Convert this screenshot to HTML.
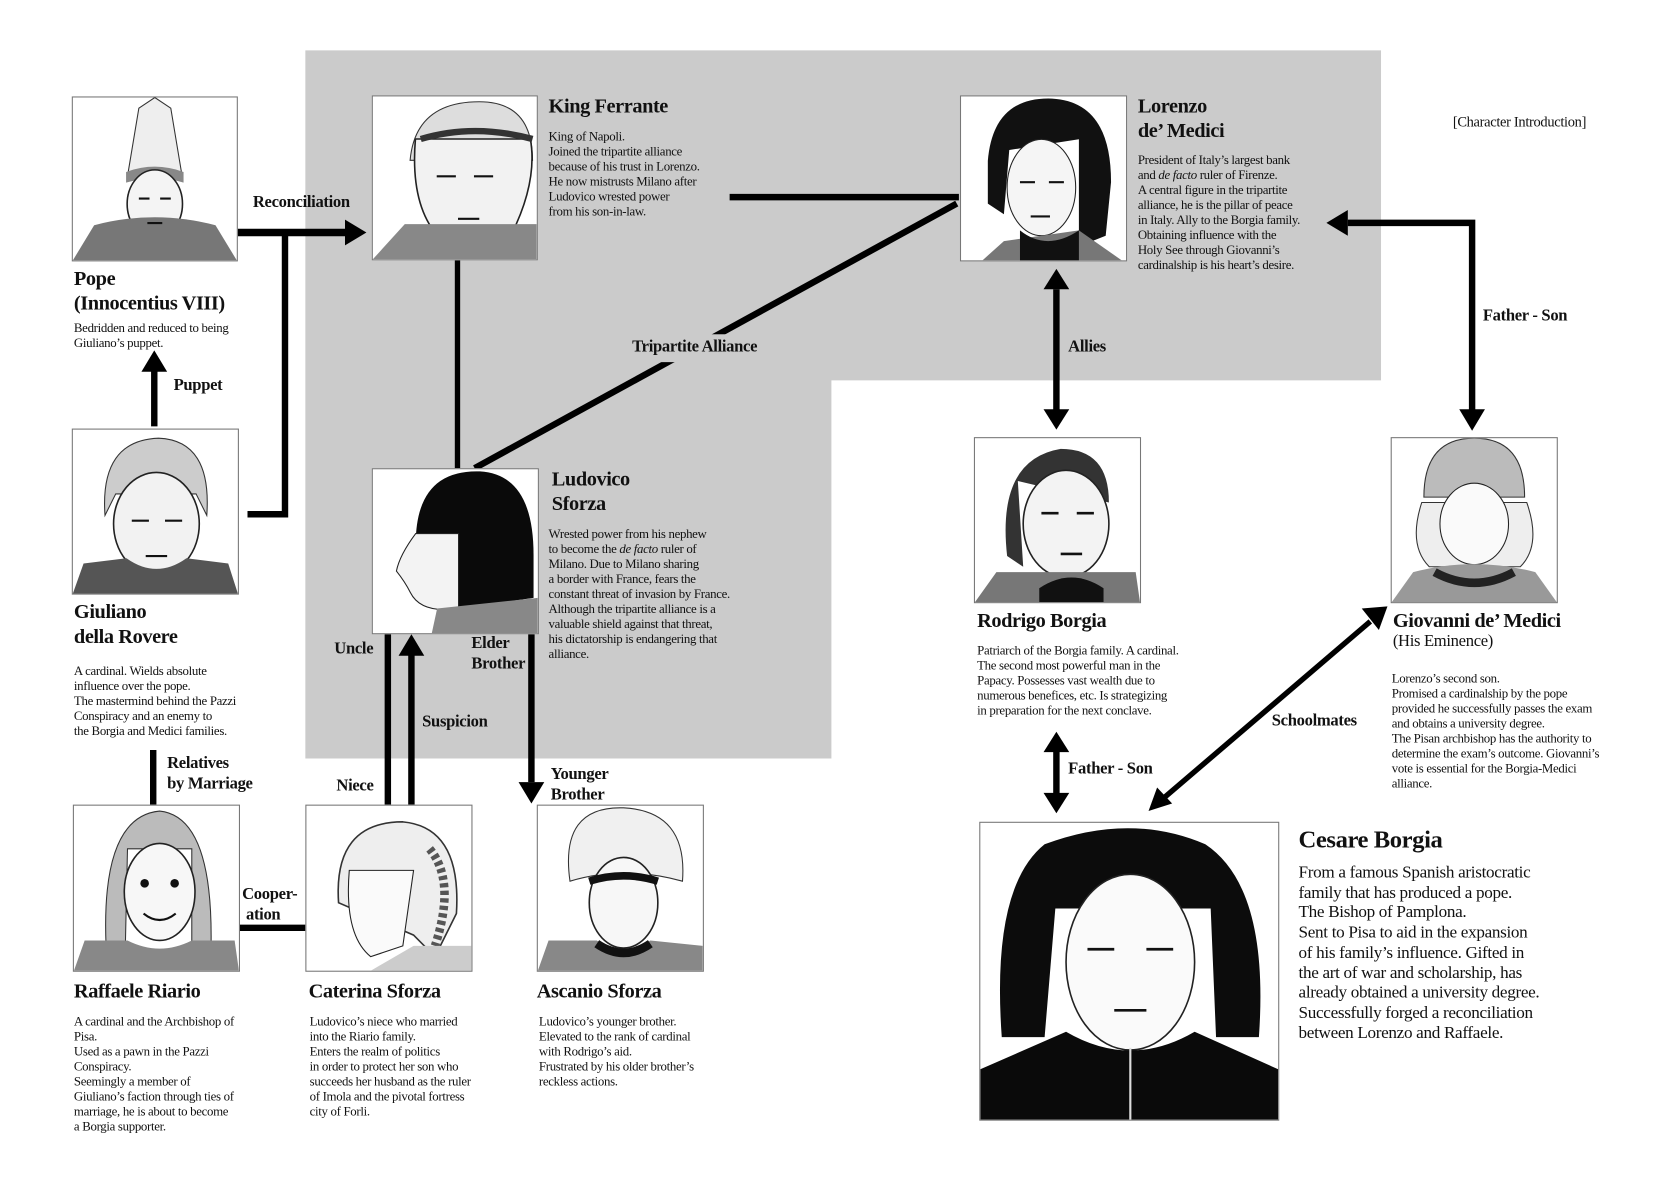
<!DOCTYPE html>
<html><head><meta charset="utf-8">
<style>
html,body{margin:0;padding:0;background:#fff;}
body{width:1680px;height:1200px;overflow:hidden;position:relative;}
#w{position:absolute;left:0;top:0;width:1568px;height:1120px;transform:scale(1.0714,1.0714);transform-origin:0 0;font-family:"Liberation Serif",serif;color:#111;}
.a{position:absolute;}
.box{position:absolute;border:1px solid #777;background:#fff;overflow:hidden;}
.box svg{width:100%;height:100%;display:block;}
.n{position:absolute;font-weight:bold;font-size:19px;line-height:23px;white-space:nowrap;letter-spacing:-0.4px;}
.d{position:absolute;font-size:12px;line-height:14px;white-space:nowrap;letter-spacing:-0.3px;}
.l{position:absolute;font-weight:bold;font-size:15.5px;line-height:18.5px;white-space:nowrap;letter-spacing:-0.3px;}
</style></head><body><div id="w">

<svg class="a" style="left:0;top:0" width="1568" height="1120" viewBox="0 0 1568 1120">
<polygon points="285,47 1289,47 1289,355 776,355 776,708 285,708" fill="#cbcbcb"/>
<g stroke="#000" fill="none">
<path d="M221 217 H324" stroke-width="7"/>
<path d="M266 217 V480 H231" stroke-width="6"/>
<path d="M144 398 V345" stroke-width="6"/>
<path d="M427 242 V437" stroke-width="5"/>
<path d="M681 184 H895" stroke-width="6"/>
<path d="M986 270 V385" stroke-width="6"/>
<path d="M1258 208 H1374 V385" stroke-width="6"/>
<path d="M986 700 V742" stroke-width="6"/>
<path d="M1279 580 L1086 745" stroke-width="5"/>
<path d="M362 590 V751" stroke-width="6"/>
<path d="M384 751 V610" stroke-width="6"/>
<path d="M496 590 V730" stroke-width="6"/>
<path d="M143 700 V751" stroke-width="6"/>
<path d="M222 866 H285" stroke-width="6"/>
</g>
<line x1="893" y1="190" x2="443" y2="437" stroke="#000" stroke-width="6"/>
<rect x="585" y="312" width="135" height="26" fill="#cbcbcb"/>
<g fill="#000">
<polygon points="322,205 342,217 322,229"/>
<polygon points="132,347 144,327 156,347"/>
<polygon points="974,270 986,251 998,270"/>
<polygon points="974,382 986,401 998,382"/>
<polygon points="1258,196 1238,208 1258,220"/>
<polygon points="1362,382 1374,402 1386,382"/>
<polygon points="974,702 986,683 998,702"/>
<polygon points="974,740 986,759 998,740"/>
<polygon points="1271,568 1295,566 1287,588"/>
<polygon points="1072,757 1080,735 1094,750"/>
<polygon points="372,612 384,592 396,612"/>
<polygon points="484,730 496,750 508,730"/>
</g>
</svg>

<div class="box" style="left:67px;top:90px;width:153px;height:152px"><svg viewBox="0 0 154 153" preserveAspectRatio="none"><path d="M52 70 L62 10 L77 0 L92 10 L102 70Z" fill="#eee" stroke="#333"/><path d="M50 70 Q77 60 104 70 L104 80 Q77 72 50 80Z" fill="#888"/><ellipse cx="77" cy="100" rx="26" ry="32" fill="#f4f4f4" stroke="#222" stroke-width="1.5"/><path d="M0 153 L20 120 Q77 105 134 120 L154 153Z" fill="#777"/><path d="M62 95h10M82 95h10M70 118h14" stroke="#111" stroke-width="2"/></svg></div>
<div class="box" style="left:347px;top:89px;width:153px;height:152px"><svg viewBox="0 0 154 153" preserveAspectRatio="none"><path d="M35 60 Q40 5 100 5 Q150 5 150 60Z" fill="#ddd" stroke="#333"/><path d="M40 40 Q35 100 60 130 L130 130 Q155 80 148 40Z" fill="#f2f2f2" stroke="#222" stroke-width="1.5"/><path d="M45 40 Q95 25 150 40" stroke="#333" stroke-width="6" fill="none"/><path d="M0 153 L30 120 L154 120 L154 153Z" fill="#888"/><path d="M60 75h18M95 75h18M80 115h20" stroke="#111" stroke-width="2"/></svg></div>
<div class="box" style="left:896px;top:89px;width:154px;height:153px"><svg viewBox="0 0 154 153" preserveAspectRatio="none"><path d="M25 60 Q30 0 85 2 Q140 5 140 80 L135 130 L110 140 L110 40 L45 50 L40 110 L25 100Z" fill="#111"/><ellipse cx="75" cy="85" rx="32" ry="45" fill="#f5f5f5" stroke="#222"/><path d="M20 153 L40 135 L110 125 L150 153Z" fill="#777"/><path d="M55 125 Q80 145 110 125 L110 153 L55 153Z" fill="#111"/><path d="M55 80h14M82 80h14M65 112h18" stroke="#111" stroke-width="2"/></svg></div>
<div class="box" style="left:67px;top:400px;width:154px;height:153px"><svg viewBox="0 0 154 153" preserveAspectRatio="none"><path d="M30 80 Q25 10 80 8 Q130 10 125 80 L115 60 L40 60Z" fill="#ccc" stroke="#333"/><ellipse cx="78" cy="88" rx="40" ry="48" fill="#f2f2f2" stroke="#222" stroke-width="1.5"/><path d="M0 153 L10 125 L50 120 Q78 140 106 120 L145 125 L154 153Z" fill="#555"/><path d="M55 85h16M86 85h16M68 118h20" stroke="#111" stroke-width="2"/></svg></div>
<div class="box" style="left:347px;top:437px;width:154px;height:153px"><svg viewBox="0 0 154 153" preserveAspectRatio="none"><path d="M40 70 Q40 0 100 2 Q150 5 150 80 L150 120 L80 130 L70 60Z" fill="#0a0a0a"/><path d="M40 60 Q25 80 22 95 Q30 105 35 115 Q45 135 80 130 L80 60Z" fill="#f3f3f3" stroke="#222"/><path d="M60 130 L154 120 L154 153 L55 153Z" fill="#888"/></svg></div>
<div class="box" style="left:909px;top:408px;width:154px;height:153px"><svg viewBox="0 0 154 153" preserveAspectRatio="none"><path d="M30 110 Q20 20 80 10 Q125 10 125 60 L40 40 L45 120Z" fill="#333"/><ellipse cx="85" cy="80" rx="40" ry="50" fill="#f3f3f3" stroke="#222" stroke-width="1.5"/><path d="M0 153 L20 125 L150 125 L154 153Z" fill="#777"/><path d="M60 140 Q90 120 120 140 L120 153 L60 153Z" fill="#111"/><path d="M62 70h16M95 70h16M80 108h20" stroke="#111" stroke-width="2.5"/></svg></div>
<div class="box" style="left:1298px;top:408px;width:154px;height:153px"><svg viewBox="0 0 154 153" preserveAspectRatio="none"><path d="M30 55 Q30 0 77 0 Q124 0 124 55Z" fill="#bbb" stroke="#333"/><path d="M28 60 Q15 100 35 120 L120 120 Q140 100 126 60Z" fill="#eee" stroke="#333"/><ellipse cx="77" cy="80" rx="32" ry="38" fill="#fafafa" stroke="#222"/><path d="M0 153 L20 125 Q77 110 134 125 L154 153Z" fill="#999"/><path d="M40 125 Q77 145 114 125" stroke="#222" stroke-width="8" fill="none"/></svg></div>
<div class="box" style="left:68px;top:751px;width:154px;height:154px"><svg viewBox="0 0 154 153" preserveAspectRatio="none"><path d="M30 130 Q25 10 80 5 Q130 10 128 130 L110 130 L110 40 L50 40 L48 130Z" fill="#bbb" stroke="#333"/><ellipse cx="80" cy="80" rx="33" ry="45" fill="#f7f7f7" stroke="#222" stroke-width="1.5"/><path d="M0 153 L10 125 L50 125 Q80 140 110 125 L150 125 L154 153Z" fill="#888"/><circle cx="66" cy="72" r="4" fill="#111"/><circle cx="94" cy="72" r="4" fill="#111"/><path d="M65 100 Q80 112 95 100" stroke="#111" stroke-width="2" fill="none"/></svg></div>
<div class="box" style="left:285px;top:751px;width:154px;height:154px"><svg viewBox="0 0 154 153" preserveAspectRatio="none"><path d="M30 90 Q25 15 90 15 Q145 20 140 100 L120 140 L100 120Z" fill="#eee" stroke="#333" stroke-width="1.5"/><path d="M40 60 Q35 120 60 140 L90 130 L100 60Z" fill="#fafafa" stroke="#222"/><path d="M115 40 Q140 70 120 130" stroke="#555" stroke-width="8" fill="none" stroke-dasharray="4 3"/><path d="M60 153 L100 130 L154 130 L154 153Z" fill="#ccc"/></svg></div>
<div class="box" style="left:501px;top:751px;width:154px;height:154px"><svg viewBox="0 0 154 153" preserveAspectRatio="none"><path d="M30 70 Q20 0 80 2 Q140 5 135 70 Q80 55 30 70Z" fill="#f0f0f0" stroke="#333"/><ellipse cx="80" cy="90" rx="32" ry="42" fill="#f7f7f7" stroke="#222" stroke-width="1.5"/><path d="M48 70 Q80 60 112 70" stroke="#111" stroke-width="7" fill="none"/><path d="M0 153 L10 125 L55 125 Q80 140 105 125 L154 130 L154 153Z" fill="#888"/><path d="M55 128 Q80 145 105 128" stroke="#111" stroke-width="8" fill="none"/></svg></div>
<div class="box" style="left:914px;top:767px;width:278px;height:277px"><svg viewBox="0 0 278 277" preserveAspectRatio="none"><path d="M20 200 Q10 60 60 20 Q140 -10 210 20 Q270 60 260 200 L220 200 L215 80 L70 80 L60 200Z" fill="#0c0c0c"/><ellipse cx="140" cy="130" rx="60" ry="82" fill="#fafafa" stroke="#222" stroke-width="1.5"/><path d="M0 277 L0 230 L80 195 Q140 230 200 195 L278 230 L278 277Z" fill="#0a0a0a"/><path d="M100 118h25M155 118h25M125 175h30" stroke="#111" stroke-width="2.5"/><path d="M140 210 V277" stroke="#ddd" stroke-width="2"/></svg></div>

<div class="n" style="left:69px;top:249px">Pope<br>(Innocentius VIII)</div>
<div class="d" style="left:69px;top:299px">Bedridden and reduced to being<br>Giuliano’s puppet.</div>

<div class="n" style="left:512px;top:88px">King Ferrante</div>
<div class="d" style="left:512px;top:120px">King of Napoli.<br>Joined the tripartite alliance<br>because of his trust in Lorenzo.<br>He now mistrusts Milano after<br>Ludovico wrested power<br>from his son-in-law.</div>

<div class="n" style="left:1062px;top:88px">Lorenzo<br>de’ Medici</div>
<div class="d" style="left:1062px;top:142px">President of Italy’s largest bank<br>and <i>de facto</i> ruler of Firenze.<br>A central figure in the tripartite<br>alliance, he is the pillar of peace<br>in Italy. Ally to the Borgia family.<br>Obtaining influence with the<br>Holy See through Giovanni’s<br>cardinalship is his heart’s desire.</div>

<div class="a" style="left:1356px;top:106px;font-size:13.5px;white-space:nowrap;letter-spacing:-0.3px">[Character Introduction]</div>

<div class="n" style="left:69px;top:560px">Giuliano<br>della Rovere</div>
<div class="d" style="left:69px;top:619px">A cardinal. Wields absolute<br>influence over the pope.<br>The mastermind behind the Pazzi<br>Conspiracy and an enemy to<br>the Borgia and Medici families.</div>

<div class="n" style="left:515px;top:436px">Ludovico<br>Sforza</div>
<div class="d" style="left:512px;top:491px">Wrested power from his nephew<br>to become the <i>de facto</i> ruler of<br>Milano. Due to Milano sharing<br>a border with France, fears the<br>constant threat of invasion by France.<br>Although the tripartite alliance is a<br>valuable shield against that threat,<br>his dictatorship is endangering that<br>alliance.</div>

<div class="n" style="left:912px;top:568px">Rodrigo Borgia</div>
<div class="d" style="left:912px;top:600px">Patriarch of the Borgia family. A cardinal.<br>The second most powerful man in the<br>Papacy. Possesses vast wealth due to<br>numerous benefices, etc. Is strategizing<br>in preparation for the next conclave.</div>

<div class="n" style="left:1300px;top:568px">Giovanni de’ Medici</div>
<div class="a" style="left:1300px;top:590px;font-size:15.5px;white-space:nowrap;letter-spacing:-0.3px">(His Eminence)</div>
<div class="d" style="left:1299px;top:626px">Lorenzo’s second son.<br>Promised a cardinalship by the pope<br>provided he successfully passes the exam<br>and obtains a university degree.<br>The Pisan archbishop has the authority to<br>determine the exam’s outcome. Giovanni’s<br>vote is essential for the Borgia-Medici<br>alliance.</div>

<div class="n" style="left:69px;top:914px">Raffaele Riario</div>
<div class="d" style="left:69px;top:946px">A cardinal and the Archbishop of<br>Pisa.<br>Used as a pawn in the Pazzi<br>Conspiracy.<br>Seemingly a member of<br>Giuliano’s faction through ties of<br>marriage, he is about to become<br>a Borgia supporter.</div>

<div class="n" style="left:288px;top:914px">Caterina Sforza</div>
<div class="d" style="left:289px;top:946px">Ludovico’s niece who married<br>into the Riario family.<br>Enters the realm of politics<br>in order to protect her son who<br>succeeds her husband as the ruler<br>of Imola and the pivotal fortress<br>city of Forli.</div>

<div class="n" style="left:501px;top:914px">Ascanio Sforza</div>
<div class="d" style="left:503px;top:946px">Ludovico’s younger brother.<br>Elevated to the rank of cardinal<br>with Rodrigo’s aid.<br>Frustrated by his older brother’s<br>reckless actions.</div>

<div class="n" style="left:1212px;top:770px;font-size:23px;line-height:28px">Cesare Borgia</div>
<div class="a" style="left:1212px;top:806px;font-size:16px;line-height:18.7px;white-space:nowrap;letter-spacing:-0.3px">From a famous Spanish aristocratic<br>family that has produced a pope.<br>The Bishop of Pamplona.<br>Sent to Pisa to aid in the expansion<br>of his family’s influence. Gifted in<br>the art of war and scholarship, has<br>already obtained a university degree.<br>Successfully forged a reconciliation<br>between Lorenzo and Raffaele.</div>

<div class="l" style="left:236px;top:180px">Reconciliation</div>
<div class="l" style="left:162px;top:351px">Puppet</div>
<div class="l" style="left:590px;top:315px">Tripartite Alliance</div>
<div class="l" style="left:997px;top:315px">Allies</div>
<div class="l" style="left:1384px;top:286px">Father - Son</div>
<div class="l" style="left:997px;top:709px">Father - Son</div>
<div class="l" style="left:1187px;top:664px">Schoolmates</div>
<div class="l" style="left:312px;top:597px">Uncle</div>
<div class="l" style="left:314px;top:725px">Niece</div>
<div class="l" style="left:394px;top:665px">Suspicion</div>
<div class="l" style="left:440px;top:592px">Elder<br>Brother</div>
<div class="l" style="left:514px;top:714px">Younger<br>Brother</div>
<div class="l" style="left:156px;top:704px">Relatives<br>by Marriage</div>
<div class="l" style="left:226px;top:826px">Cooper-<br>&nbsp;ation</div>

</div></body></html>
